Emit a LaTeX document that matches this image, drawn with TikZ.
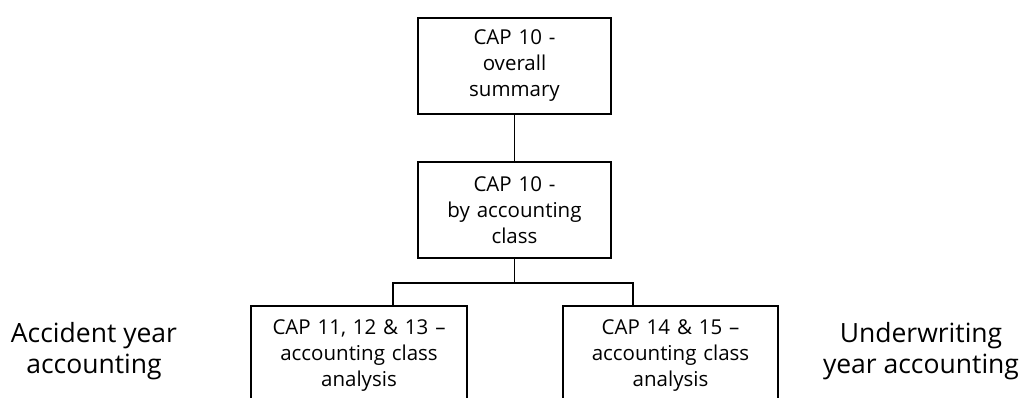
\documentclass[tikz,border=0pt]{standalone}
\usepackage{fontspec}
\setmainfont{Open Sans}
\usetikzlibrary{positioning}

\tikzset{
  capbox/.style={draw, line width=1.7pt, inner sep=0pt, align=center,
    text width=#1, minimum height=96pt,
    font=\fontsize{20.5}{26}\selectfont},
  sidelabel/.style={align=center, font=\fontsize{26.5}{31}\selectfont},
  link/.style={line width=1.7pt},
}

\begin{document}
\begin{tikzpicture}[x=1pt,y=-1pt]

    \useasboundingbox (0,0) rectangle (1023,397);
    \clip (0,0) rectangle (1023,397);

    % summary boxes
    \node[capbox=193pt] (overall) at (514.5,66) {CAP 10 -\\overall\\summary};
    \node[capbox=193pt] (byclass) at (514.5,210) {CAP 10 -\\by accounting\\class};

    % analysis boxes, cut off at the bottom
    \node[capbox=216pt, minimum height=100pt] (accident) at (359,356)
        {CAP 11, 12 \& 13 --\\accounting class\\analysis};
    \node[capbox=215pt, minimum height=100pt] (uwyear) at (670.5,356)
        {CAP 14 \& 15 --\\accounting class\\analysis};

    % side labels
    \node[sidelabel] (aylabel) at (94,351) {Accident year\\accounting};
    \node[sidelabel] (uwlabel) at (921,351) {Underwriting\\year accounting};

    % connectors
    \draw[link] (overall) -- (byclass);
    \draw[link] (byclass.south) -- ++(0,24) coordinate (split);
    \draw[link] (split) -| ([xshift=34pt]accident.north);
    \draw[link] (split) -| ([xshift=-37.5pt]uwyear.north);

\end{tikzpicture}
\end{document}
